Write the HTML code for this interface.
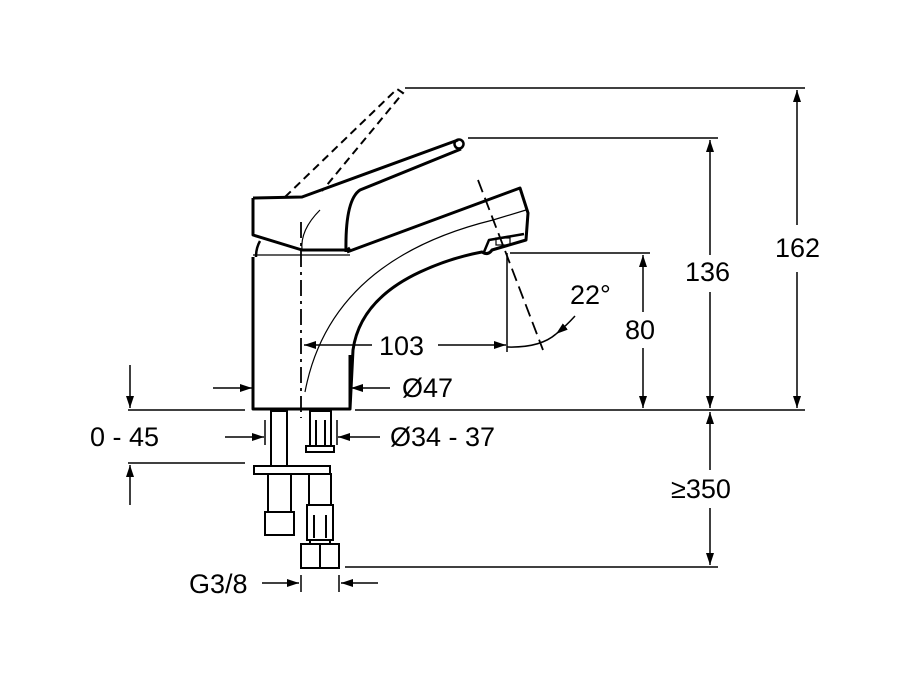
<!DOCTYPE html>
<html><head><meta charset="utf-8"><style>
html,body{margin:0;padding:0;background:#fff;}
svg{display:block;}
text{font-family:"Liberation Sans",sans-serif;font-size:27px;fill:#000;}
</style></head><body>
<svg width="912" height="684" viewBox="0 0 912 684" xmlns="http://www.w3.org/2000/svg">
<defs>
<marker id="a" viewBox="0 0 12 8" refX="12" refY="4" markerWidth="12" markerHeight="8" markerUnits="userSpaceOnUse" orient="auto"><path d="M0,0 L12,4 L0,8 Z" fill="#000"/></marker>
</defs>
<g fill="none" stroke="#000" stroke-width="1.5">
<line x1="405" y1="88" x2="805" y2="88"/>
<line x1="468" y1="138" x2="718" y2="138"/>
<line x1="510" y1="253" x2="650" y2="253"/>
<line x1="355" y1="410" x2="805" y2="410"/>
<line x1="128" y1="410" x2="245" y2="410"/>
<line x1="128" y1="463" x2="245" y2="463"/>
<line x1="345" y1="567" x2="718" y2="567"/>
<line x1="797" y1="225" x2="797" y2="90" marker-end="url(#a)"/>
<line x1="797" y1="272" x2="797" y2="408" marker-end="url(#a)"/>
<line x1="710" y1="255" x2="710" y2="140" marker-end="url(#a)"/>
<line x1="710" y1="292" x2="710" y2="408" marker-end="url(#a)"/>
<line x1="643" y1="312" x2="643" y2="255" marker-end="url(#a)"/>
<line x1="643" y1="348" x2="643" y2="408" marker-end="url(#a)"/>
<line x1="710" y1="470" x2="710" y2="412" marker-end="url(#a)"/>
<line x1="710" y1="508" x2="710" y2="565" marker-end="url(#a)"/>
<line x1="372" y1="345" x2="304" y2="345" marker-end="url(#a)"/>
<line x1="438" y1="345" x2="506" y2="345" marker-end="url(#a)"/>
<line x1="507" y1="253" x2="507" y2="352"/>
<line x1="478" y1="180" x2="543" y2="350" stroke-dasharray="13,6" stroke-width="1.8"/>
<path d="M507,347 Q540,348 556,334" />
<path d="M575,316 Q566,326 556,334" marker-end="url(#a)"/>
<line x1="213" y1="388" x2="252" y2="388" marker-end="url(#a)"/>
<line x1="390" y1="388" x2="351" y2="388" marker-end="url(#a)"/>
<line x1="130" y1="365" x2="130" y2="408" marker-end="url(#a)"/>
<line x1="130" y1="505" x2="130" y2="465" marker-end="url(#a)"/>
<line x1="225" y1="437" x2="264" y2="437" marker-end="url(#a)"/>
<line x1="380" y1="437" x2="338" y2="437" marker-end="url(#a)"/>
<line x1="265" y1="420" x2="265" y2="445"/>
<line x1="337" y1="420" x2="337" y2="445"/>
<line x1="262" y1="583" x2="299" y2="583" marker-end="url(#a)"/>
<line x1="378" y1="583" x2="341" y2="583" marker-end="url(#a)"/>
<line x1="301" y1="575" x2="301" y2="592"/>
<line x1="339" y1="575" x2="339" y2="592"/>
<line x1="301" y1="222" x2="301" y2="418" stroke-dasharray="16,5,3,5" stroke-width="1.8"/>
<path d="M285,197 L397,89 L403,93 L322,191" stroke-dasharray="8,5" stroke-width="2"/>
</g>
<g fill="none" stroke="#000" stroke-width="3" stroke-linejoin="round">
<path d="M253,257 L253,409 L350,409 L350,355"/>
<path d="M253,198 L253,235 L302,250 L347,250 L350,248"/>
<path d="M253,198 L302,197 L458,140" />
<path d="M461,149 L360,190 Q345,200 346,252"/>
<circle cx="459" cy="144" r="4.5" stroke-width="2.5"/>
<path d="M260,241 Q256,248 256,257" stroke-width="2.5"/>
<path d="M347,252 L520,188 L528,213 L526,240 L492,250 Q488,256 482,252 Q450,258 420,272 Q360,300 353,350 L350,409"/>
<path d="M484,252 L489,240 L524,234" stroke-width="2.5"/>
</g>
<g fill="none" stroke="#000" stroke-width="1.2">
<path d="M302,250 Q300,230 320,210"/>
<line x1="253" y1="255" x2="350" y2="255"/>
<path d="M526,210 L493,220 Q330,260 305,392"/>
<rect x="496" y="238" width="14" height="7"/>
</g>
<g fill="#fff" stroke="#000" stroke-width="2">
<rect x="271" y="411" width="16" height="55"/>
<rect x="310" y="411" width="21" height="40"/>
<rect x="306" y="446" width="28" height="6"/>
<rect x="254" y="466" width="76" height="8"/>
<rect x="268" y="474" width="23" height="38"/>
<rect x="265" y="512" width="29" height="23"/>
<rect x="309" y="474" width="22" height="32"/>
<rect x="307" y="505" width="26" height="35"/>
<rect x="301" y="544" width="38" height="24"/>
<line x1="320" y1="544" x2="320" y2="568"/>
<line x1="316" y1="420" x2="316" y2="446"/><line x1="325" y1="420" x2="325" y2="446"/>
<line x1="314" y1="515" x2="314" y2="538"/><line x1="326" y1="515" x2="326" y2="538"/>
<line x1="310" y1="540" x2="310" y2="544"/><line x1="330" y1="540" x2="330" y2="544"/>
</g>
<g>
<rect x="776" y="232" width="44" height="30" fill="#fff"/>
<text x="775" y="257">162</text>
<text x="685" y="281">136</text>
<text x="625" y="339">80</text>
<text x="379" y="355">103</text>
<text x="570" y="304">22°</text>
<text x="402" y="397">Ø47</text>
<text x="390" y="446">Ø34 - 37</text>
<text x="90" y="446">0 - 45</text>
<text x="671" y="498">≥350</text>
<text x="189" y="593">G3/8</text>
</g>
</svg>
</body></html>
